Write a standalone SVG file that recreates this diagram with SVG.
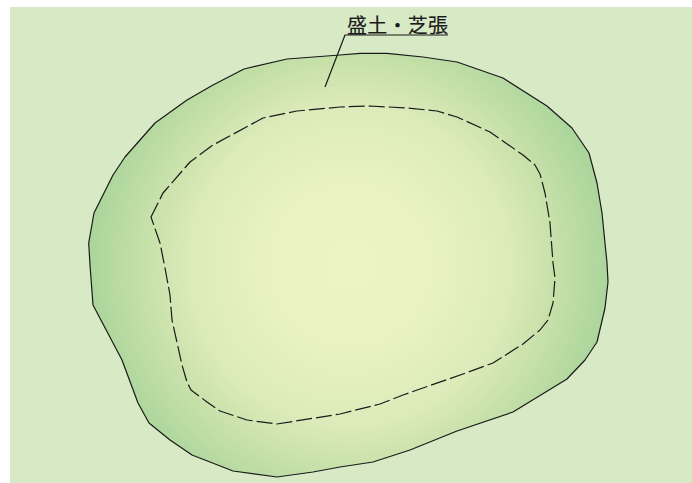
<svg xmlns="http://www.w3.org/2000/svg" width="692" height="483" viewBox="0 0 692 483">
<style>
.o{fill:none;stroke:#1a1a1a;stroke-width:1.2;stroke-linejoin:round}
.d{stroke-dasharray:16 4}
.t{font-family:"Noto Sans CJK JP","Noto Sans CJK SC",sans-serif;font-size:20px;fill:#1a1a1a;stroke:#1a1a1a;stroke-width:.15}
</style>
<defs>
<radialGradient id="g" gradientUnits="userSpaceOnUse" cx="350" cy="265" r="265">
<stop offset="0" stop-color="#ecf3c5"/>
<stop offset="0.3" stop-color="#eaf2c3"/>
<stop offset="0.6" stop-color="#dcebba"/>
<stop offset="0.78" stop-color="#c6e0a9"/>
<stop offset="1" stop-color="#a8d49a"/>
</radialGradient>
</defs>
<rect width="692" height="483" fill="#fff"/>
<rect x="10" y="7" width="682" height="476" fill="#d8e9c5"/>
<path id="area" fill="url(#g)" d="M244 69L287 59L340 55L360 53.3L387 53.3L423 57L457 62L503 78L547 106L572 128L589 153L597 183L602 213L607 263L608 282L605 308L597 342L585 360L567 379L513 412L457 431L410 450L373 462L340 467L313 472L277 477L233 471L192 455L170 440L149 423L138 403L122 360L93 305L90 265L88.7 243L94 213L113 175L125 157L155 123L187 100L213 85Z"/>
<g id="connectors">
<path class="o" d="M244 69L287 59L340 55L360 53.3L387 53.3L423 57L457 62L503 78L547 106L572 128L589 153L597 183L602 213L607 263L608 282L605 308L597 342L585 360L567 379L513 412L457 431L410 450L373 462L340 467L313 472L277 477L233 471L192 455L170 440L149 423L138 403L122 360L93 305L90 265L88.7 243L94 213L113 175L125 157L155 123L187 100L213 85Z"/>
<path class="o d" d="M151 217L163 193L190 162L213 145L263 118L297 111L340 107L370 106L407 108L437 111L457 117L490 132L523 155L535 165L540 174L545 193L550 223L553 263L555 278L553 303L548 320L540 330L523 344L493 363L463 374L403 395L380 404L340 414L277 424L247 420L220 411L207 402L191 390L187 382L182 365L172 320L170 295L165 268L160 243Z"/>
<path class="o" d="M325 87L345 35H448"/>
</g>
<g id="label"><text class="t" x="347" y="33" textLength="101" lengthAdjust="spacing">盛土・芝張</text></g>
</svg>
